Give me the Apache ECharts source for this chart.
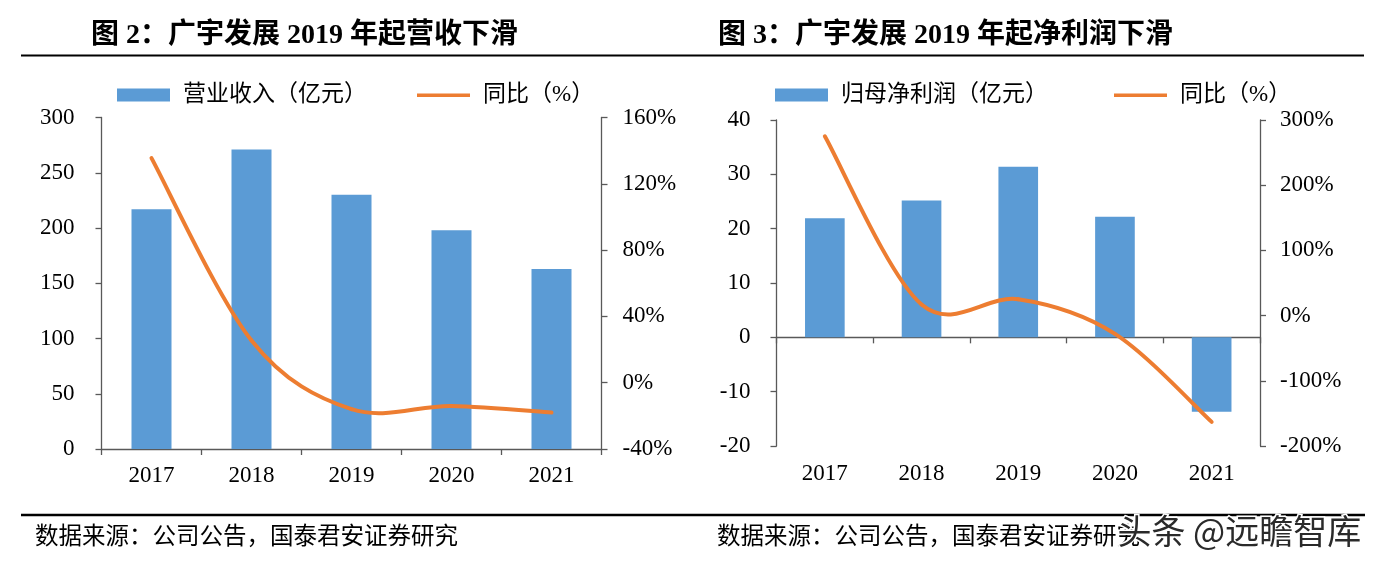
<!DOCTYPE html>
<html>
<head>
<meta charset="utf-8">
<script src="https://cdn.jsdelivr.net/npm/echarts@6/dist/echarts.min.js"></script>
<style>
html,body{margin:0;padding:0;background:#fff;}
#c{width:1388px;height:565px;}
</style>
</head>
<body>
<div id="c"></div>
<script>
// ---- data ----
const years = ['2017', '2018', '2019', '2020', '2021'];
const revenue = [217, 271, 230, 198, 163];            // 营业收入（亿元）
const revenueYoY = [135.5, 25.5, -16, -14, -18];      // 同比（%）
const profit = [21.9, 25.2, 31.4, 22.2, -13.7];       // 归母净利润（亿元）
const profitYoY = [275, 17, 25, -28, -163];           // 同比（%）

const title1 = '图 2：广宇发展 2019 年起营收下滑';
const title2 = '图 3：广宇发展 2019 年起净利润下滑';
const legendRev = '营业收入（亿元）';
const legendProfit = '归母净利润（亿元）';
const legendYoY = '同比（%）';
const sourceText = '数据来源：公司公告，国泰君安证券研究';
const watermark = '头条 @远瞻智库';

const BAR = '#5B9BD5';
const LINE = '#ED7D31';
const AX = '#595959';
const serif = '"Liberation Serif", "Noto Sans CJK SC", serif';
const linePath = 'path://M0,0M0,13M0,5L53,5L53,8.5L0,8.5Z';

const axisLabel = {color: '#000', fontSize: 23, fontFamily: serif};
function yAxis(grid, pos, min, max, interval, pct, margin) {
  return {
    type: 'value', gridIndex: grid, position: pos, min: min, max: max, interval: interval,
    axisLine: {show: true, lineStyle: {color: AX, width: 1.3}},
    axisTick: {show: true, length: 6, lineStyle: {color: AX, width: 1.3}},
    splitLine: {show: false},
    axisLabel: Object.assign({}, axisLabel, {margin: margin, formatter: pct ? '{value}%' : '{value}'})
  };
}

// Smoothed line (Excel-style Catmull-Rom) drawn segment by segment through the axis scales
function smoothSegment(values) {
  return function (params, api) {
    const i = params.dataIndex;
    const n = values.length;
    if (i >= n - 1) return null;
    const p = function (k) { k = Math.max(0, Math.min(n - 1, k)); return api.coord([years[k], values[k]]); };
    const P0 = p(i - 1), P1 = p(i), P2 = p(i + 1), P3 = p(i + 2);
    return {
      type: 'bezierCurve',
      shape: {
        x1: P1[0], y1: P1[1], x2: P2[0], y2: P2[1],
        cpx1: P1[0] + (P2[0] - P0[0]) / 6, cpy1: P1[1] + (P2[1] - P0[1]) / 6,
        cpx2: P2[0] - (P3[0] - P1[0]) / 6, cpy2: P2[1] - (P3[1] - P1[1]) / 6
      },
      style: {stroke: LINE, lineWidth: 4, fill: null, lineCap: 'round'}
    };
  };
}

const chart = echarts.init(document.getElementById('c'), null, {renderer: 'canvas'});
chart.setOption({
  animation: false,
  backgroundColor: '#fff',
  grid: [
    {left: 101.5, top: 117.5, width: 500, height: 331.5},
    {left: 776.5, top: 120, width: 483.5, height: 326}
  ],
  legend: [
    {
      left: 117, top: 83, padding: 0, itemWidth: 53, itemHeight: 13, itemGap: 50,
      textStyle: {fontSize: 23, color: '#000', fontFamily: serif, padding: [0, 0, 0, 8], lineHeight: 24},
      data: [{name: legendRev, icon: 'rect'}, {name: legendYoY + ' ', icon: linePath}]
    },
    {
      left: 775, top: 83, padding: 0, itemWidth: 53, itemHeight: 13, itemGap: 66,
      textStyle: {fontSize: 23, color: '#000', fontFamily: serif, padding: [0, 0, 0, 8], lineHeight: 24},
      data: [{name: legendProfit, icon: 'rect'}, {name: legendYoY, icon: linePath}]
    }
  ],
  xAxis: [
    {
      type: 'category', gridIndex: 0, data: years,
      axisLine: {show: true, lineStyle: {color: AX, width: 1.3}},
      axisTick: {show: true, length: 6, lineStyle: {color: AX, width: 1.3}},
      axisLabel: Object.assign({}, axisLabel, {margin: 15})
    },
    {
      type: 'category', gridIndex: 1, data: years, position: 'bottom',
      axisLine: {show: false, onZero: false},
      axisTick: {show: false},
      axisLabel: Object.assign({}, axisLabel, {margin: 16})
    },
    {
      type: 'category', gridIndex: 1, data: years, position: 'bottom',
      axisLine: {show: true, onZero: true, lineStyle: {color: AX, width: 1.3}},
      axisTick: {show: true, length: 6, lineStyle: {color: AX, width: 1.3}},
      axisLabel: {show: false}
    }
  ],
  yAxis: [
    yAxis(0, 'left', 0, 300, 50, false, 27),
    yAxis(0, 'right', -40, 160, 40, true, 21),
    yAxis(1, 'left', -20, 40, 10, false, 26),
    yAxis(1, 'right', -200, 300, 100, true, 20)
  ],
  series: [
    {
      name: legendRev, type: 'bar', xAxisIndex: 0, yAxisIndex: 0, data: revenue,
      barWidth: '40%', itemStyle: {color: BAR}
    },
    {
      name: legendYoY + ' ', type: 'custom', xAxisIndex: 0, yAxisIndex: 1,
      data: revenueYoY.map(function (v, k) { return [years[k], v]; }),
      encode: {x: 0, y: 1}, renderItem: smoothSegment(revenueYoY),
      itemStyle: {color: LINE}, z: 3
    },
    {
      name: legendProfit, type: 'bar', xAxisIndex: 1, yAxisIndex: 2, data: profit,
      barWidth: '41%', itemStyle: {color: BAR}
    },
    {
      name: legendYoY, type: 'custom', xAxisIndex: 1, yAxisIndex: 3,
      data: profitYoY.map(function (v, k) { return [years[k], v]; }),
      encode: {x: 0, y: 1}, renderItem: smoothSegment(profitYoY),
      itemStyle: {color: LINE}, z: 3
    }
  ],
  graphic: [
    {type: 'text', left: 91, top: 22, style: {text: title1, font: 'bold 28px ' + serif, fill: '#000'}},
    {type: 'text', left: 718, top: 22, style: {text: title2, font: 'bold 28px ' + serif, fill: '#000'}},
    {type: 'line', shape: {x1: 21, y1: 55.5, x2: 1364, y2: 55.5}, style: {stroke: '#000', lineWidth: 2.2}},
    {type: 'line', shape: {x1: 21, y1: 515, x2: 1365, y2: 515}, style: {stroke: '#000', lineWidth: 2.5}},
    {type: 'text', left: 35, top: 523, style: {text: sourceText, font: '23.5px "Noto Sans CJK SC"', fill: '#000'}},
    {type: 'text', left: 717, top: 523, style: {text: sourceText, font: '23.5px "Noto Sans CJK SC"', fill: '#000'}},
    {type: 'text', left: 1116, top: 513, z: 100, style: {text: watermark, font: '34px "Noto Sans CJK SC"', fill: '#2a2a2a', stroke: '#fff', lineWidth: 3}}
  ]
});
</script>
</body>
</html>
